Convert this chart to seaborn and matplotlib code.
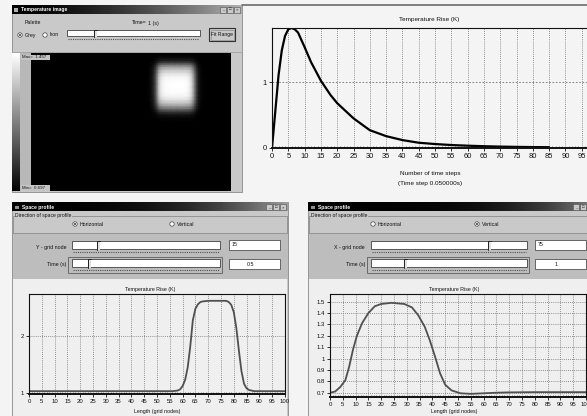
import numpy as np
import pandas as pd
import matplotlib
matplotlib.use('Agg')
import matplotlib.pyplot as plt
import seaborn as sns
from matplotlib.patches import Rectangle, Circle
from matplotlib.ticker import MultipleLocator, FuncFormatter

# ---------------- data ----------------
time_steps = [0, 1, 2, 3, 4, 5, 6, 7, 8, 10, 12, 15, 18, 20, 25, 30, 35, 40, 45, 50,
              55, 60, 65, 70, 75, 80, 85]
temp_rise_time = [0, 0.55, 1.1, 1.48, 1.7, 1.8, 1.82, 1.8, 1.75, 1.53, 1.3, 1.02, 0.8,
                  0.68, 0.45, 0.27, 0.18, 0.12, 0.08, 0.06, 0.045, 0.035, 0.027, 0.021,
                  0.017, 0.014, 0.012]

h_nodes = [0, 10, 20, 30, 40, 50, 56, 58, 59, 60, 61, 62, 63, 64, 65, 66, 67, 68, 70,
           75, 77, 78, 79, 80, 81, 82, 83, 84, 85, 86, 88, 90, 95, 100]
h_temp = [1.03, 1.03, 1.03, 1.03, 1.03, 1.03, 1.03, 1.04, 1.06, 1.12, 1.23, 1.45, 1.82,
          2.28, 2.48, 2.56, 2.6, 2.61, 2.62, 2.62, 2.62, 2.6, 2.55, 2.42, 2.14, 1.74,
          1.38, 1.16, 1.08, 1.05, 1.03, 1.03, 1.03, 1.03]

v_nodes = [0, 2, 4, 6, 7.5, 9, 10.5, 12.5, 15, 17.5, 20, 24, 29, 32, 34.5, 37, 39, 41,
           43, 45, 47.5, 51, 55, 60, 65, 70, 80, 90, 100]
v_temp = [0.70, 0.71, 0.75, 0.81, 0.93, 1.08, 1.2, 1.31, 1.4, 1.46, 1.48, 1.49, 1.48,
          1.45, 1.38, 1.28, 1.16, 1.02, 0.87, 0.77, 0.72, 0.695, 0.69, 0.695, 0.70,
          0.703, 0.705, 0.705, 0.705]

x_ticks = list(range(0, 101, 5))
img_min, img_max = 0.697, 1.457

# ---------------- figure ----------------
sns.set_style('white')
plt.rcParams['font.family'] = ['Liberation Sans', 'DejaVu Sans']

W, H = 587, 416
fig = plt.figure(figsize=(W / 100, H / 100), dpi=100)
fig.patch.set_facecolor('#f4f4f4')


def add_ax(x0, y0, x1, y1, z=2):
    return fig.add_axes([x0 / W, (H - y1) / H, (x1 - x0) / W, (y1 - y0) / H], zorder=z)


bg = add_ax(0, 0, W, H, z=0)
fg = add_ax(0, 0, W, H, z=10)
for a in (bg, fg):
    a.set_axis_off()
    a.patch.set_alpha(0)

FACE = '#c9c9c9'
FONT = 'Liberation Sans'


def rect(ax, x0, y0, x1, y1, fc, ec='none', lw=0.6, z=1):
    ax.add_patch(Rectangle((x0, y0), x1 - x0, y1 - y0, facecolor=fc, edgecolor=ec,
                           linewidth=lw, zorder=z))


def txt(ax, x, y, s, size=3.8, color='#101010', ha='left', va='center', **kw):
    ax.text(x, y, s, fontsize=size, color=color, ha=ha, va=va, family=FONT, zorder=6, **kw)


def titlebar(x0, x1, y0, y1, power=2.0, end=0.72):
    g = (np.linspace(0, 1, 256) ** power) * end
    bg.imshow(g[None, :], cmap='gray', vmin=0, vmax=1, extent=[x0, x1, y1, y0],
              aspect='auto', zorder=3, interpolation='bilinear')


def win_buttons(x0, yc):
    for i, sym in enumerate(['_', '□', '×']):
        bx = x0 + i * 7
        rect(bg, bx, yc - 3, bx + 6, yc + 3, FACE, ec='#505050', lw=0.4, z=4)
        bg.text(bx + 3, yc, sym, fontsize=3.2, ha='center', va='center', family=FONT,
                zorder=6, clip_on=True)


def slider(x0, x1, y0, y1, thumb):
    rect(bg, x0, y0, x1, y1, 'white', ec='#404040', lw=0.6, z=4)
    rect(bg, thumb - 1, y0 - 0.5, thumb + 1.5, y1 + 0.5, '#e0e0e0', ec='none', z=4)
    bg.plot([thumb - 1, thumb - 1], [y0 - 0.5, y1 + 1], color='#202020', lw=0.7, zorder=5)
    bg.plot([thumb - 1, thumb + 1.5], [y0 - 0.5, y0 - 0.5], color='#202020', lw=0.7, zorder=5)
    bg.plot([x0 + 1, x1 - 1], [y1 + 3, y1 + 3], color='#505050', lw=0.8,
            ls=(0, (1, 1)), zorder=4)


def textbox(x0, y0, x1, y1, s, ha='left'):
    rect(bg, x0, y0, x1, y1, 'white', ec='#505050', lw=0.6, z=4)
    if ha == 'left':
        txt(bg, x0 + 3, (y0 + y1) / 2, s)
    else:
        txt(bg, (x0 + x1) / 2 - 4, (y0 + y1) / 2, s, ha='center')


def radio(x, y, s, on):
    bg.add_patch(Circle((x, y), 2.2, facecolor='white', edgecolor='#404040', lw=0.5, zorder=5))
    if on:
        bg.add_patch(Circle((x, y), 0.9, facecolor='#101010', edgecolor='none', zorder=6))
    txt(bg, x + 4.5, y, s)


def style_chart(ax, xlim, ylim, yticks, hgrid, fs, hls=(0, (1, 1.5))):
    ax.set_xlim(*xlim)
    ax.set_ylim(*ylim)
    ax.set_xticks(x_ticks)
    ax.set_yticks(yticks)
    ax.xaxis.set_minor_locator(MultipleLocator(1))
    ax.yaxis.set_major_formatter(FuncFormatter(lambda v, p: f'{v:g}'))
    ax.tick_params(axis='both', which='major', labelsize=fs, length=2, width=0.6,
                   pad=1.5, colors='#101010', bottom=True, left=True)
    ax.tick_params(axis='x', which='minor', length=1.5, width=0.4, direction='in',
                   bottom=True)
    for xv in x_ticks[1:-1]:
        ax.axvline(xv, color='#707070', lw=0.6, ls=(0, (1, 1.5)), zorder=0)
    for yv in hgrid:
        ax.axhline(yv, color='#707070', lw=0.6, ls=hls, zorder=0)
    for s in ax.spines.values():
        s.set_color('#101010')
        s.set_linewidth(0.8)
        s.set_visible(True)
    ax.spines['bottom'].set_linewidth(1.4)
    ax.set_xlabel('')
    ax.set_ylabel('')
    ax.patch.set_alpha(0)
    for lab in ax.get_xticklabels() + ax.get_yticklabels():
        lab.set_family(FONT)


# ---------------- top-left window: Temperature image ----------------
rect(bg, 12, 5, 242, 192, FACE, ec='#8a8a8a', lw=0.6)
titlebar(12, 242, 5, 14, power=1.6, end=0.7)
rect(bg, 14, 7.5, 18, 11.5, '#b0b0b0', z=4)
txt(bg, 21, 9.6, 'Temperature image', size=3.6, color='white', weight='bold')
win_buttons(220, 9.5)
txt(bg, 25, 23, 'Palette')
radio(20, 35, 'Grey', True)
radio(45, 35, 'Iron', False)
txt(bg, 132, 23, 'Time=')
txt(bg, 148, 23, '1 (s)')
slider(67, 200, 30, 36, 95)
rect(bg, 209, 28, 235, 41, FACE, ec='#303030', lw=0.8, z=4)
rect(bg, 210.5, 29.5, 233.5, 39.5, FACE, ec='#808080', lw=0.4, z=4)
txt(bg, 222, 34.5, 'Fit Range', size=3.6, ha='center')
bg.plot([12, 241], [51.5, 51.5], color='#a0a0a0', lw=0.6, zorder=4)
rect(bg, 20, 53, 31, 191, '#b8b8b8', z=2)

img_ax = add_ax(31, 53, 231, 191, z=3)
h_arr, v_arr = np.array(h_temp), np.array(v_temp)
hn = np.clip((h_arr - h_arr[0]) / (h_arr.max() - h_arr[0]), 0, 1)
vn = np.clip((v_arr - v_arr[-1]) / (v_arr.max() - v_arr[-1]), 0, 1)
field = img_min + (img_max - img_min) * np.outer(vn, hn)
mesh = img_ax.pcolormesh(h_nodes, v_nodes, field, shading='gouraud', cmap='gray',
                         vmin=img_min, vmax=img_max)
img_ax.set_xlim(0, 100)
img_ax.set_ylim(100, 0)
img_ax.set_axis_off()

cax = add_ax(12, 53, 20, 191, z=3)
cb = fig.colorbar(mesh, cax=cax)
cb.set_ticks([])
cb.outline.set_visible(False)

rect(fg, 21, 54.5, 50, 60, '#c4c4c4', z=2)
txt(fg, 22, 57.3, f'Max=  {img_max:.3f}', size=3.2)
rect(fg, 21, 185, 50, 190.5, '#c4c4c4', z=2)
txt(fg, 22, 187.8, f'Min=  {img_min:.3f}', size=3.2)

# line across top
bg.plot([242, 587], [5, 5], color='#6a6a6a', lw=1.2, zorder=4)

# ---------------- top-right chart: time evolution ----------------
ax1 = add_ax(272, 28, 598, 148, z=2)
sns.lineplot(x=time_steps, y=temp_rise_time, ax=ax1, color='black', linewidth=1.6)
style_chart(ax1, (0, 100), (0, 1.82), [0, 1], [1], 5.4, hls=(0, (2, 2)))
txt(fg, 429, 19, 'Temperature Rise (K)', size=4.6, ha='center')
txt(fg, 430, 173, 'Number of time steps', size=4.6, ha='center')
txt(fg, 430, 184, '(Time step 0.050000s)', size=4.6, ha='center')


# ---------------- bottom windows: Space profile ----------------
def space_window(x0, x1, sel_h, node_label, node_val, node_thumb, time_val, time_thumb,
                 sx0, sx1, lab_x, tb_x0, grad_end, grad_pow, btn_x, rh_x, rv_x):
    rect(bg, x0, 202, x1, 416, FACE, ec='#8a8a8a', lw=0.6)
    titlebar(x0, x1, 203, 211.5, power=grad_pow, end=grad_end)
    rect(bg, x0 + 3, 205.5, x0 + 7, 209, '#909090', z=4)
    txt(bg, x0 + 10, 207.3, 'Space profile', size=3.6, color='white', weight='bold')
    win_buttons(btn_x, 207.3)
    rect(bg, x0 + 1, 216, x1 - 1, 233, 'none', ec='#8c8c8c', lw=0.6, z=2)
    txt(bg, x0 + 3, 215.6, 'Direction of space profile', size=3.6,
        bbox=dict(facecolor=FACE, edgecolor='none', pad=0.3))
    radio(rh_x, 224, 'Horizontal', sel_h)
    radio(rv_x, 224, 'Vertical', not sel_h)
    rect(bg, x0 + 0.5, 234, x1 - 0.5, 279, '#bdbdbd', z=2)
    txt(bg, lab_x, 247, node_label, ha='right')
    slider(sx0, sx1, 241, 249, node_thumb)
    textbox(tb_x0, 240, tb_x0 + 51, 250, node_val)
    txt(bg, lab_x, 264.5, 'Time (s)', ha='right')
    rect(bg, sx0 - 4, 256.5, sx1 + 2, 273, 'none', ec='#6a6a6a', lw=0.7, z=3)
    slider(sx0, sx1, 259, 267, time_thumb)
    textbox(tb_x0, 259, tb_x0 + 51, 269, time_val, ha='center')
    rect(bg, x0 + 1, 279, x1 - 1, 416, '#efefef', z=2)


space_window(12, 288, True, 'Y - grid node', '15', 98, '0.5', 89, 72, 220, 66, 229,
             0.62, 3.0, 266, 75, 172)
space_window(308, 600, False, 'X - grid node', '75', 489, '1', 405, 371, 527, 365, 535,
             0.55, 4.0, 573, 373, 477)

ax2 = add_ax(29, 294, 285, 394.3, z=2)
sns.lineplot(x=h_nodes, y=h_temp, ax=ax2, color='#505050', linewidth=1.3)
style_chart(ax2, (0, 100), (0.975, 2.74), [1, 2], [1, 2], 4.3)
txt(fg, 150, 289, 'Temperature Rise (K)', size=3.8, ha='center')
txt(fg, 157, 411, 'Length (grid nodes)', size=3.8, ha='center')

ax3 = add_ax(330, 294.3, 586, 396.7, z=2)
sns.lineplot(x=v_nodes, y=v_temp, ax=ax3, color='#505050', linewidth=1.3)
yt3 = [0.7, 0.8, 0.9, 1.0, 1.1, 1.2, 1.3, 1.4, 1.5]
style_chart(ax3, (0, 100), (0.665, 1.565), yt3, yt3, 4.3)
txt(fg, 454, 289, 'Temperature Rise (K)', size=3.8, ha='center')
txt(fg, 454, 411, 'Length (grid nodes)', size=3.8, ha='center')

for a in (bg, fg):
    a.set_xlim(0, W)
    a.set_ylim(H, 0)

fig.savefig('out.png', dpi=100, facecolor=fig.get_facecolor())
